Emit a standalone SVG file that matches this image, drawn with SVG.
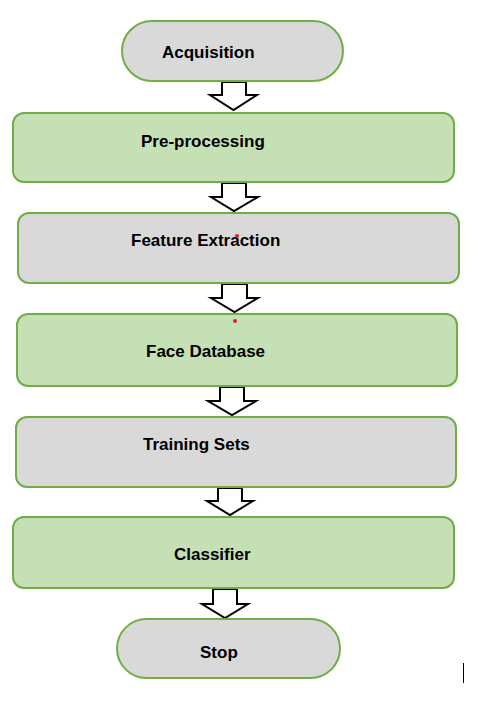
<svg xmlns="http://www.w3.org/2000/svg" width="478" height="704" viewBox="0 0 478 704">
<style>
.g{fill:#d9d9d9;stroke:#70ad47;stroke-width:2}
.v{fill:#c5e0b4;stroke:#70ad47;stroke-width:2}
.t{font-family:"Liberation Sans",Arial,sans-serif;font-weight:bold;font-size:17px;fill:#000}
.a{fill:#fff;stroke:#000;stroke-width:2;stroke-linejoin:miter}
.d{fill:#e02020}
</style>
<rect width="478" height="704" fill="#fff"/>
<g id="connectors">
<path class="a" d="M222,82 H246 V95 H257 L233.5,110 L210,95 H222 Z"/>
<path class="a" d="M222,183 H246 V197 H258 L234,211 L211,197 H222 Z"/>
<path class="a" d="M222,284 H247 V298 H258 L234.5,312 L211,298 H222 Z"/>
<path class="a" d="M220,387 H244 V401 H256 L232,415 L208,401 H220 Z"/>
<path class="a" d="M218,488 H242 V501 H253 L230,515 L207,501 H218 Z"/>
<path class="a" d="M213,589 H237 V604 H248 L225,618 L202,604 H213 Z"/>
</g>
<g id="acquisition">
<rect class="g" x="122" y="21" width="221" height="60" rx="30" ry="30"/>
<text class="t" x="162" y="58">Acquisition</text>
</g>
<g id="preprocessing">
<rect class="v" x="13" y="113" width="441" height="69" rx="11" ry="11"/>
<text class="t" x="141" y="147">Pre-processing</text>
</g>
<g id="feature-extraction">
<rect class="g" x="18" y="213" width="441" height="70" rx="11" ry="11"/>
<text class="t" x="131" y="246">Feature Extraction</text>
<circle class="d" cx="237" cy="236" r="2"/>
</g>
<g id="face-database">
<rect class="v" x="17" y="314" width="440" height="72" rx="11" ry="11"/>
<text class="t" x="146" y="357">Face Database</text>
<circle class="d" cx="235" cy="321" r="2"/>
</g>
<g id="training-sets">
<rect class="g" x="16" y="417" width="440" height="70" rx="11" ry="11"/>
<text class="t" x="143" y="450">Training Sets</text>
</g>
<g id="classifier">
<rect class="v" x="13" y="517" width="441" height="71" rx="11" ry="11"/>
<text class="t" x="174" y="560">Classifier</text>
</g>
<g id="stop">
<rect class="g" x="117" y="619" width="223" height="59" rx="29.5" ry="29.5"/>
<text class="t" x="200" y="658">Stop</text>
</g>
<line x1="463.5" y1="663" x2="463.5" y2="683" stroke="#000" stroke-width="1"/>
</svg>
